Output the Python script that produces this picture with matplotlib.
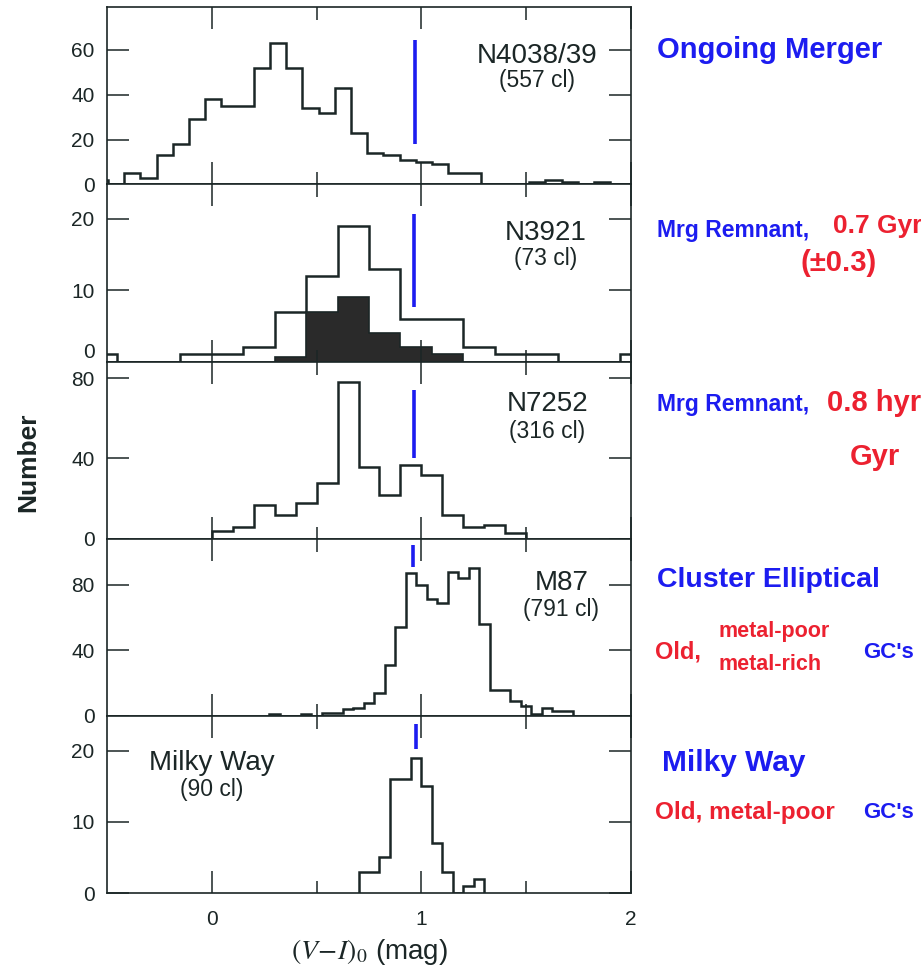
import numpy as np
import matplotlib
matplotlib.use("Agg")
import matplotlib.pyplot as plt

plt.rcParams['font.family'] = ['Liberation Sans', 'DejaVu Sans']
plt.rcParams['mathtext.fontset'] = 'stix'

# (V-I)_0 colour histograms
# each panel: first bin edge, bin width, counts per bin
n4038_lo, n4038_w = -0.5723, 0.0773
n4038 = [2, 0, 5, 3, 13, 18, 29, 38, 35, 35, 52, 63, 52, 34, 32, 43,
         23, 14, 13, 11, 10, 9, 5, 5, 0, 0, 0, 1, 2, 1, 0, 1]

n3921_lo, n3921_w = -0.60, 0.15
n3921 = [1, 0, 0, 1, 1, 2, 7, 12, 19, 13, 6, 6, 2, 1, 1, 0, 0, 1]
# shaded sub-sample
n3921s_lo = 0.30
n3921s = [0.7, 7, 9, 4, 2, 1]

n7252_lo, n7252_w = 0.0, 0.10
n7252 = [4, 6, 17, 12, 18, 28, 78, 36, 22, 37, 32, 12, 6, 7, 3]

m87_lo, m87_w = 0.275, 0.05
m87 = [1, 0, 0, 1, 0, 2, 2, 4, 5, 8, 14, 31, 54, 87, 80, 71, 69, 88, 84,
       90, 56, 16, 16, 9, 6, 1, 5, 3, 3]

mw_lo, mw_w = 0.70, 0.05
mw = [3, 3, 5, 16, 16, 19, 15, 7, 3, 0, 1, 2]

names = ["N4038/39", "N3921", "N7252", "M87", "Milky Way"]
ncl = ["(557 cl)", "(73 cl)", "(316 cl)", "(791 cl)", "(90 cl)"]

# blue marks (Milky Way mean colour) drawn on each panel
blue_x = [0.968, 0.965, 0.965, 0.962, 0.975]
blue_lo = [18.2, 7.7, 40.0, 91.0, 20.2]
blue_hi = [64.5, 20.6, 74.0, 104.0, 23.8]

ymax = [79.0, 24.8, 88.3, 108.0, 24.9]
yticks = [[0, 20, 40, 60], [0, 10, 20], [0, 40, 80], [0, 40, 80], [0, 10, 20]]
xticks = [0, 1, 2]

ink = '#1b2626'
blue = '#1c1cf0'
red = '#ec2130'

hists = [(n4038_lo, n4038_w, n4038), (n3921_lo, n3921_w, n3921),
         (n7252_lo, n7252_w, n7252), (m87_lo, m87_w, m87), (mw_lo, mw_w, mw)]

# label positions in data coords
lab_x = [1.55, 1.595, 1.60, 1.668, 0.0]
lab_y = [57.5, 18.0, 67.0, 81.0, 18.3]
cl_y = [46.4, 14.4, 53.4, 64.6, 14.6]

fig, axes = plt.subplots(5, 1, figsize=(9.21, 9.73), dpi=100, sharex=True)
fig.subplots_adjust(left=0.1162, right=0.6851, top=0.9925, bottom=0.0822, hspace=0)

for i, ax in enumerate(axes):
    lo, w, counts = hists[i]
    edges = lo + w * np.arange(len(counts) + 1)
    ax.stairs(counts, edges, baseline=0, color=ink, lw=1.8)
    if i == 1:
        sedges = n3921s_lo + n3921_w * np.arange(len(n3921s) + 1)
        ax.stairs(n3921s, sedges, baseline=0, fill=True,
                  facecolor='#2a2a2a', edgecolor=ink, lw=1.2)
    ax.vlines(blue_x[i], blue_lo[i], blue_hi[i], color=blue, lw=2.6)

    ax.set_xlim(-0.5, 2.0)
    ax.set_ylim(0, ymax[i])
    ax.set_yticks(yticks[i], labels=[str(t) for t in yticks[i]])
    ax.set_xticks(xticks, labels=[str(t) for t in xticks])
    ax.set_xticks([0.5, 1.5], minor=True)
    ax.tick_params(axis='x', which='major', direction='in', length=16,
                   width=1.1, color=ink, top=True, bottom=True,
                   labelsize=15, pad=12, labelcolor=ink)
    ax.tick_params(axis='x', which='minor', direction='in', length=9,
                   width=1.1, color=ink, top=True, bottom=True)
    ax.tick_params(axis='y', direction='in', length=16, width=1.1,
                   color=ink, left=True, right=True, labelsize=15, pad=9,
                   labelcolor=ink)
    if i < 4:
        ax.tick_params(axis='x', labelbottom=False)
    for s in ax.spines.values():
        s.set_color(ink)
        s.set_linewidth(1.2)

    ax.text(lab_x[i], lab_y[i], names[i], ha='center', va='center',
            fontsize=20, color=ink)
    ax.text(lab_x[i], cl_y[i], ncl[i], ha='center', va='center',
            fontsize=16.5, color=ink)

# lift the "0" of panel 2 so it clears the "80" below it
axes[1].get_yticklabels()[0].set_va('bottom')

axes[-1].set_xlabel(r'$(V\!-\!I)_0$ (mag)', fontsize=20, color=ink, labelpad=6)
fig.text(0.031, 0.525, 'Number', rotation=90, ha='center', va='center',
         fontsize=19, fontweight='bold', color=ink)


# handwritten notes on the right (pixel positions of the scan)
def note(x, y, s, c, size):
    fig.text(x / 921, 1 - y / 973, s, color=c, fontsize=size,
             fontweight='bold', ha='left', va='center')


note(657, 50, "Ongoing Merger", blue, 21)
note(657, 230, "Mrg Remnant,", blue, 16.5)
note(833, 226, "0.7 Gyr", red, 19)
note(800, 263, "(±0.3)", red, 21)
note(657, 405, "Mrg Remnant,", blue, 16.5)
note(827, 403, "0.8 hyr", red, 21)
note(850, 457, "Gyr", red, 21)
note(657, 580, "Cluster Elliptical", blue, 20.5)
note(655, 652, "Old,", red, 17)
note(718, 631, "metal-poor", red, 15.5)
note(718, 664, "metal-rich", red, 15.5)
note(863, 653, "GC's", blue, 16)
note(662, 763, "Milky Way", blue, 21.5)
note(655, 813, "Old, metal-poor", red, 17.5)
note(863, 813, "GC's", blue, 16)

fig.savefig("out.png", dpi=100)
